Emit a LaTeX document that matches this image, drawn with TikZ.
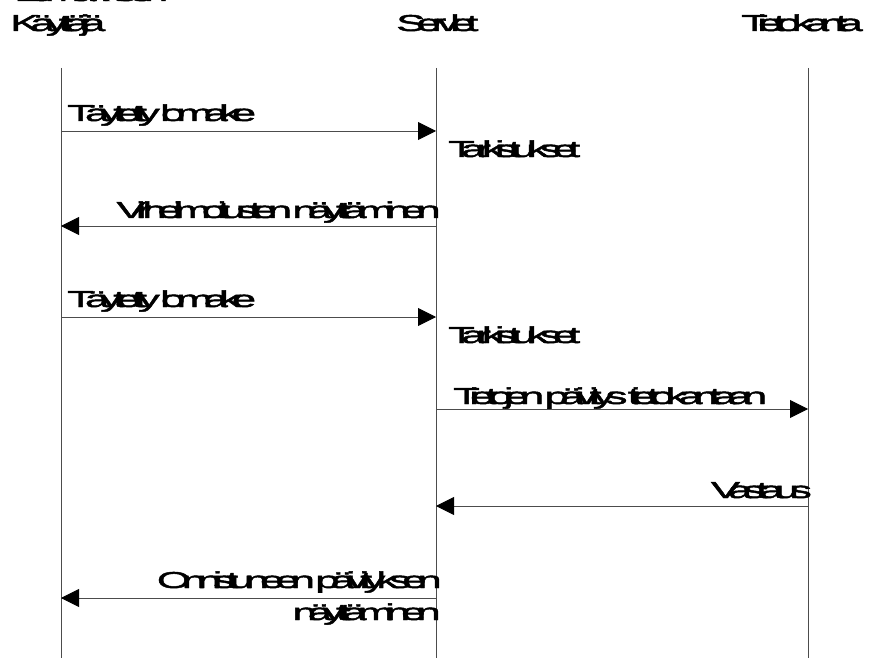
\documentclass[tikz,border=0pt]{standalone}
\usepackage{fontspec}
\setmainfont{Liberation Sans}[FakeStretch=1.9,LetterSpace=-39,WordSpace=0.1,FakeBold=2]
\usetikzlibrary{arrows.meta}

\begin{document}
\begin{tikzpicture}[x=1pt,y=-1pt,
  lbl/.style={inner sep=0pt,font=\fontsize{23}{26}\selectfont},
  life/.style={line width=0.9pt,black!70},
  msg/.style={line width=0.9pt,black!70,
    -{Triangle[length=18pt,width=18pt,color=black]}}]
\useasboundingbox (0,0) rectangle (871,658);

% title line, mostly above the page
\node[lbl,anchor=base west] (title) at (14,1) {Lomakkeen};

% participants
\node[lbl,anchor=base west] (hUser) at (10,31) {Käyttäjä};
\node[lbl,anchor=base west] (hServ) at (396,31) {Servlet};
\node[lbl,anchor=base west] (hDb) at (741,31) {Tietokanta};

% lifelines
\coordinate (uTop) at (61,68);  \coordinate (uBot) at (61,660);
\coordinate (sTop) at (436,68); \coordinate (sBot) at (436,660);
\coordinate (dTop) at (808,68); \coordinate (dBot) at (808,660);
\draw[life] (uTop) -- (uBot);
\draw[life] (sTop) -- (sBot);
\draw[life] (dTop) -- (dBot);

% message end points on the lifelines
\coordinate (u1) at (61,131);  \coordinate (s1) at (436,131);
\coordinate (u2) at (61,226);  \coordinate (s2) at (436,226);
\coordinate (u3) at (61,317);  \coordinate (s3) at (436,317);
\coordinate (s4) at (436,409); \coordinate (d4) at (808,409);
\coordinate (s5) at (436,506); \coordinate (d5) at (808,506);
\coordinate (u6) at (61,598);  \coordinate (s6) at (436,598);

% messages
\draw[msg] (u1) -- (s1);
\node[lbl,anchor=base west] (m1) at (67,121) {Täytetty lomake};
\node[lbl,anchor=base west] (c1) at (448,157) {Tarkistukset};

\draw[msg] (s2) -- (u2);
\node[lbl,anchor=base east] (m2) at (441,218) {Virheilmoitusten näyttäminen};

\draw[msg] (u3) -- (s3);
\node[lbl,anchor=base west] (m3) at (67,307) {Täytetty lomake};
\node[lbl,anchor=base west] (c3) at (448,343) {Tarkistukset};

\draw[msg] (s4) -- (d4);
\node[lbl,anchor=base west] (m4) at (453,404) {Tietojen päivitys tietokantaan};

\draw[msg] (d5) -- (s5);
\node[lbl,anchor=base east] (m5) at (812,498) {Vastaus};

\draw[msg] (s6) -- (u6);
\node[lbl,anchor=base east] (m6a) at (442,588) {Onnistuneen päivityksen};
\node[lbl,anchor=base east] (m6b) at (441,620) {näyttäminen};
\end{tikzpicture}
\end{document}
